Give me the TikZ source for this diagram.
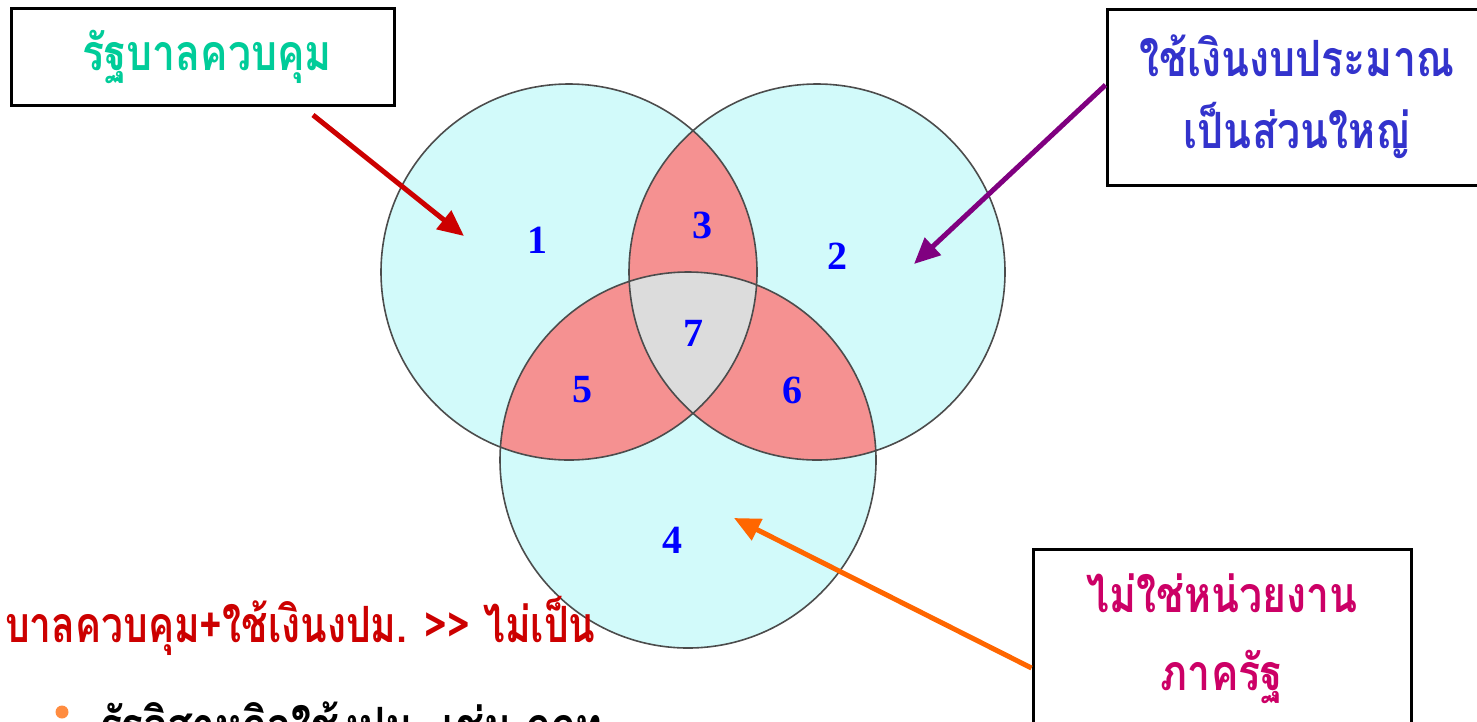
\documentclass[tikz,border=0pt]{standalone}
\usepackage{fontspec}
\setmainfont{Liberation Serif}
\newfontfamily\thaifont[Script=Thai, FakeStretch=0.82]{Loma}
\usetikzlibrary{arrows.meta,positioning}
\definecolor{GovGreen}{HTML}{00CC99}
\definecolor{BudgetBlue}{HTML}{3333CC}
\definecolor{PublicPink}{HTML}{CC0066}
\definecolor{RuleRed}{HTML}{CC0000}
\definecolor{ArrowPurple}{HTML}{800080}
\definecolor{ArrowOrange}{HTML}{FF6600}
\definecolor{SetCyan}{HTML}{D2FAFA}
\definecolor{SetPink}{HTML}{F59191}
\definecolor{SetGrey}{HTML}{DCDCDC}
\definecolor{NumBlue}{HTML}{0000FF}

\begin{document}
\begin{tikzpicture}[x=1pt, y=-1pt,
    labelbox/.style={draw=black, line width=3pt, fill=white, inner sep=0pt, align=center},
    thaitext/.style={font=\thaifont\bfseries\fontsize{50}{72}\selectfont},
    setnum/.style={font=\bfseries\fontsize{40}{40}\selectfont, text=NumBlue},
    pointer/.style={line width=5pt, -{Triangle[length=26pt,width=23pt]}}]
    \useasboundingbox (0,0) rectangle (1477,721);
    \clip (0,0) rectangle (1477,721);

    % centres of the three sets
    \coordinate (c1) at (569,272);
    \coordinate (c2) at (817,272);
    \coordinate (c3) at (688,460);

    \fill[SetCyan] (c1) circle (188pt) (c2) circle (188pt) (c3) circle (188pt);
    \begin{scope}
        \clip (c1) circle (188pt);
        \fill[SetPink] (c2) circle (188pt) (c3) circle (188pt);
    \end{scope}
    \begin{scope}
        \clip (c2) circle (188pt);
        \fill[SetPink] (c3) circle (188pt);
    \end{scope}
    \begin{scope}
        \clip (c1) circle (188pt);
        \clip (c2) circle (188pt);
        \fill[SetGrey] (c3) circle (188pt);
    \end{scope}
    \draw[line width=1.6pt, black!70] (c1) circle (188pt) (c2) circle (188pt) (c3) circle (188pt);

    \foreach \n/\px/\py in {1/537/240, 2/837/256, 3/702/225, 4/672/540,
                            5/582/390, 6/792/390, 7/693/333}
        \node[setnum] (num\n) at (\px,\py) {\n};

    % label boxes
    \node[labelbox, minimum width=383pt, minimum height=97pt, text=GovGreen, thaitext] (gov) at (203,57) {\hspace*{8pt}รัฐบาลควบคุม};
    \node[labelbox, minimum width=380pt, minimum height=176pt, text=BudgetBlue, thaitext] (budget) at (1297,97) {ใช้เงินงบประมาณ\\เป็นส่วนใหญ่};
    \node[labelbox, minimum width=378pt, minimum height=180pt, text=PublicPink, thaitext] (public) at (1222,639) {ไม่ใช่หน่วยงาน\\[6pt]ภาครัฐ};

    % pointers
    \coordinate (govtail) at (313,115);
    \coordinate (govtip) at (464,236);
    \coordinate (budgettip) at (914,264);
    \coordinate (publictip) at (734,518);
    \draw[pointer, RuleRed] (govtail) -- (govtip);
    \draw[pointer, ArrowPurple] ([yshift=12pt]budget.west) -- (budgettip);
    \draw[pointer, ArrowOrange] ([yshift=-29pt]public.west) -- (publictip);

    % text below
    \node[thaitext, text=RuleRed, anchor=base west, inner sep=0pt] (rule) at (5,642) {\scalebox{0.95}[1]{บาลควบคุม+ใช้เงินงปม. >> ไม่เป็น}};
    \node[circle, fill=ArrowOrange!75, minimum size=13pt, inner sep=0pt] (dot) at (62,712) {};
    \node[thaitext, text=black, anchor=base west, inner sep=0pt] (example) at (100,743) {รัฐวิสาหกิจใช้งปม. เช่น กกท};
\end{tikzpicture}
\end{document}
